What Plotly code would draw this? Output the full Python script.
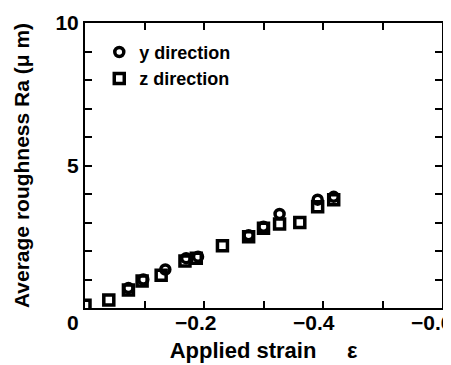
import plotly.graph_objects as go

# z direction (squares)
eps_z = [0.0, -0.04, -0.073, -0.096, -0.128, -0.168, -0.187, -0.231, -0.275, -0.30, -0.327, -0.361, -0.391, -0.418]
ra_z = [0.1, 0.28, 0.63, 0.95, 1.15, 1.65, 1.75, 2.18, 2.5, 2.8, 2.95, 3.0, 3.55, 3.8]
# y direction (circles)
eps_y = [-0.073, -0.098, -0.135, -0.17, -0.19, -0.275, -0.30, -0.327, -0.391, -0.418]
ra_y = [0.7, 1.0, 1.35, 1.75, 1.8, 2.55, 2.85, 3.3, 3.8, 3.9]

x_tickvals = [-0.1, -0.2, -0.3, -0.4, -0.5, -0.6]
x_label_vals = [-0.2, -0.4, -0.6]
x_label_text = ["\u22120.2", "\u22120.4", "\u22120.6"]
y_tickvals = [0, 1, 2, 3, 4, 5, 6, 7, 8, 9, 10]
y_ticktext = ["", "", "", "", "", "5", "", "", "", "", "10"]

font = dict(family="Liberation Sans, Arial", size=21, color="black", weight="bold")

fig = go.Figure()
fig.add_trace(go.Scatter(
    x=eps_y, y=ra_y, mode="markers", name="y direction",
    marker=dict(symbol="circle-open", size=9, color="black", line=dict(width=3.5, color="black")),
))
fig.add_trace(go.Scatter(
    x=eps_z, y=ra_z, mode="markers", name="z direction",
    marker=dict(symbol="square-open", size=10, color="black", line=dict(width=3.5, color="black")),
))

fig.update_layout(
    width=451, height=365,
    margin=dict(l=77, r=17, t=15, b=65),
    paper_bgcolor="white", plot_bgcolor="white",
    font=font,
    showlegend=True,
    legend=dict(x=0.04, y=0.962, xanchor="left", yanchor="top", bgcolor="rgba(0,0,0,0)",
                font=dict(family="Liberation Sans, Arial", size=18, color="black", weight="bold"),
                itemwidth=30, tracegroupgap=0),
    xaxis=dict(
        range=[0, -0.6], showgrid=False, zeroline=False, automargin=False,
        showline=True, linecolor="black", linewidth=2, mirror="ticks",
        ticks="inside", ticklen=7, tickwidth=1.5, tickcolor="black",
        tickvals=x_tickvals, showticklabels=False,
        title=dict(text="Applied strain     \u03b5", standoff=34, font=dict(size=22)),
    ),
    yaxis=dict(
        range=[0, 10], showgrid=False, zeroline=False, automargin=False,
        showline=True, linecolor="black", linewidth=2, mirror="ticks",
        ticks="inside", ticklen=7, tickwidth=1.5, tickcolor="black",
        tickvals=y_tickvals, ticktext=y_ticktext,
        title=dict(text="Average roughness Ra (\u03bc m)", standoff=20, font=dict(size=21)),
    ),
)
# x tick labels, placed on the axis scale and nudged left as in the original
last = len(x_label_vals) - 1
for i, (v, t) in enumerate(zip(x_label_vals, x_label_text)):
    if i == last:
        fig.add_annotation(x=v, y=0, xref="x", yref="paper", text=t, showarrow=False,
                           xanchor="right", yanchor="top", xshift=12, yshift=-1, font=font)
    else:
        fig.add_annotation(x=v, y=0, xref="x", yref="paper", text=t, showarrow=False,
                           xanchor="center", yanchor="top", xshift=-9, yshift=-1, font=font)
fig.add_annotation(x=0, y=0, xref="x", yref="paper", text="0", showarrow=False,
                   xanchor="center", yanchor="top", xshift=-12, yshift=-1, font=font)

fig.write_html("out.html")
